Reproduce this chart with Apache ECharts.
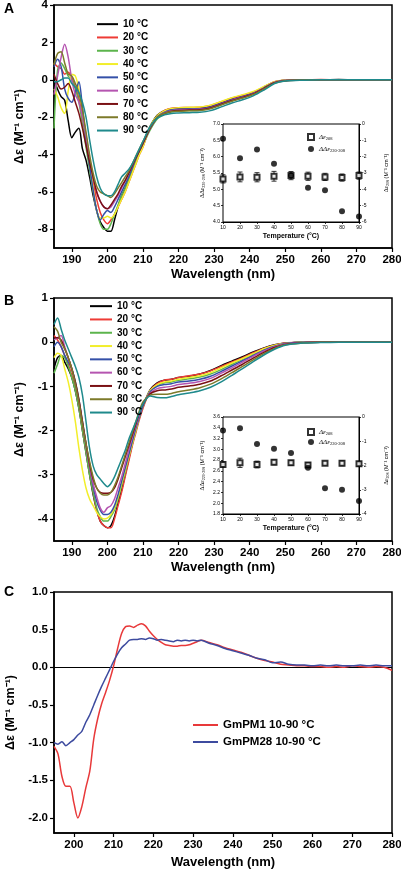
<!DOCTYPE html>
<html><head><meta charset="utf-8">
<script src="https://cdn.jsdelivr.net/npm/echarts@6/dist/echarts.min.js"></script>
<style>html,body{margin:0;padding:0;background:#fff}#c{width:401px;height:871px}</style>
</head><body><div id="c"></div>
<script>
// ---------- DATA ----------
const wlAB = [185,186,187,188,189,190,191,192,193,194,195,196,197,198,199,200,201,202,203,204,205,206,207,208,209,210,
  212,214,216,218,220,223,226,229,232,235,238,241,244,247,250,255,260,265,270,275,280];
const tempNames = ['10 °C','20 °C','30 °C','40 °C','50 °C','60 °C','70 °C','80 °C','90 °C'];
const tempColors = ['#000000','#ee3b35','#5cb44c','#f2ee2a','#3450a8','#b555b0','#7a1014','#7d7a2a','#1f8a8c'];

// Panel A spectra (head 185-210 + tail 212-280)
const A10 = [0.0,-0.5,-0.9,-1.1,-2.2,-3.1,-2.8,-2.6,-3.7,-4.3,-5.2,-6.2,-7.0,-7.6,-7.9,-8.1,-8.1,-7.5,-6.8,-6.2,-5.8,-5.3,-4.8,-4.3,-3.8,-3.4,
  -2.5,-1.9,-1.65,-1.55,-1.52,-1.5,-1.5,-1.4,-1.2,-1.0,-0.85,-0.68,-0.4,-0.12,-0.03,0.0,0.0,0.01,0.0,0.0,0.0];
const A20 = [0.9,0.7,0.6,0.3,0.4,0.1,-0.4,-1.0,-2.0,-3.2,-4.3,-5.4,-6.4,-7.1,-7.5,-7.7,-7.5,-7.2,-6.8,-6.4,-6.0,-5.5,-5.0,-4.5,-4.0,-3.6,
  -2.55,-1.95,-1.65,-1.52,-1.5,-1.48,-1.47,-1.38,-1.18,-0.98,-0.83,-0.66,-0.38,-0.1,-0.02,0.0,0.01,0.0,0.0,0.0,0.0];
const A30 = [-2.6,0.5,0.9,0.6,0.2,0.0,-0.5,-1.2,-2.4,-3.6,-4.8,-6.0,-7.0,-7.7,-8.0,-8.0,-7.7,-7.2,-6.7,-6.2,-5.8,-5.3,-4.8,-4.3,-3.9,-3.5,
  -2.7,-2.1,-1.85,-1.72,-1.67,-1.65,-1.63,-1.53,-1.32,-1.12,-0.96,-0.76,-0.46,-0.16,-0.05,-0.01,0.0,0.0,0.0,0.0,0.0];
const A40 = [-0.5,-0.9,-1.5,-1.8,-0.6,0.3,0.2,-0.5,-1.6,-3.0,-4.4,-5.8,-7.0,-7.4,-7.4,-7.3,-7.4,-7.2,-6.8,-6.4,-6.0,-5.5,-5.0,-4.5,-4.0,-3.6,
  -2.5,-1.92,-1.66,-1.53,-1.5,-1.47,-1.46,-1.36,-1.16,-0.96,-0.8,-0.63,-0.36,-0.1,-0.02,0.0,0.0,0.0,0.0,0.0,0.0];
const A50 = [0.7,1.1,0.7,-0.5,-1.0,-1.2,-0.7,-0.1,-1.5,-3.2,-4.6,-5.9,-7.0,-7.5,-7.2,-7.0,-7.1,-6.8,-6.4,-6.0,-5.6,-5.2,-4.7,-4.2,-3.8,-3.4,
  -2.6,-2.0,-1.75,-1.62,-1.58,-1.56,-1.55,-1.46,-1.26,-1.06,-0.9,-0.72,-0.43,-0.14,-0.04,0.0,0.0,0.0,0.0,0.0,0.0];
const A60 = [-0.8,0.2,1.2,1.9,1.2,0.0,-0.8,-1.2,-2.0,-3.0,-4.2,-5.2,-6.0,-6.5,-6.8,-6.9,-6.8,-6.5,-6.2,-5.8,-5.4,-5.0,-4.6,-4.2,-3.8,-3.4,
  -2.62,-2.02,-1.78,-1.66,-1.62,-1.6,-1.58,-1.49,-1.29,-1.09,-0.93,-0.74,-0.45,-0.15,-0.04,0.0,0.0,0.0,0.0,0.0,0.0];
const A70 = [0.3,-0.2,-0.5,-0.4,-0.2,-0.6,-1.2,-1.8,-2.6,-3.5,-4.4,-5.2,-6.0,-6.5,-6.8,-6.9,-6.7,-6.4,-6.1,-5.7,-5.4,-5.0,-4.6,-4.2,-3.8,-3.4,
  -2.6,-2.03,-1.8,-1.68,-1.64,-1.62,-1.6,-1.51,-1.31,-1.11,-0.95,-0.76,-0.46,-0.16,-0.05,-0.01,0.0,0.0,0.0,0.0,0.0];
const A80 = [0.8,1.4,1.5,0.9,0.3,0.2,-0.2,-0.7,-1.6,-2.8,-4.0,-5.0,-5.7,-6.0,-6.1,-6.2,-6.3,-6.1,-5.8,-5.5,-5.2,-4.9,-4.5,-4.1,-3.7,-3.3,
  -2.55,-2.0,-1.8,-1.7,-1.68,-1.66,-1.64,-1.55,-1.35,-1.15,-0.98,-0.79,-0.49,-0.18,-0.05,-0.01,0.0,0.0,0.0,0.0,0.0];
const A90 = [-0.1,-0.1,0.0,0.1,0.1,-0.2,-0.4,-0.7,-1.2,-2.0,-3.2,-4.3,-5.2,-5.8,-6.1,-6.2,-6.2,-6.0,-5.6,-5.2,-5.0,-4.8,-4.5,-4.1,-3.7,-3.3,
  -2.5,-2.05,-1.88,-1.8,-1.78,-1.76,-1.74,-1.65,-1.45,-1.24,-1.07,-0.86,-0.55,-0.2,-0.07,-0.02,0.0,0.0,0.0,0.0,0.0];

// Panel B spectra
const B10 = [-0.6,-0.35,-0.3,-0.45,-0.6,-0.8,-1.1,-1.5,-2.0,-2.5,-3.0,-3.45,-3.8,-4.05,-4.15,-4.2,-4.15,-3.95,-3.65,-3.35,-3.0,-2.65,-2.3,-2.0,-1.7,-1.45,
  -1.08,-0.92,-0.86,-0.84,-0.8,-0.77,-0.72,-0.64,-0.53,-0.43,-0.33,-0.22,-0.13,-0.06,-0.02,0.0,0.01,0.0,0.01,0.0,0.0];
const B20 = [0.15,0.05,-0.1,-0.3,-0.5,-0.75,-1.05,-1.45,-1.95,-2.45,-2.95,-3.4,-3.8,-4.05,-4.15,-4.2,-4.2,-4.0,-3.7,-3.4,-3.05,-2.7,-2.35,-2.05,-1.75,-1.5,
  -1.1,-0.94,-0.86,-0.84,-0.8,-0.76,-0.72,-0.65,-0.55,-0.45,-0.35,-0.24,-0.14,-0.07,-0.02,0.0,0.01,0.0,0.01,0.0,0.0];
const B30 = [-0.7,-0.5,-0.3,-0.35,-0.55,-0.8,-1.1,-1.5,-2.0,-2.5,-3.0,-3.4,-3.75,-3.95,-4.05,-4.05,-3.95,-3.8,-3.55,-3.25,-2.95,-2.6,-2.3,-2.0,-1.7,-1.45,
  -1.12,-0.98,-0.92,-0.9,-0.86,-0.83,-0.79,-0.72,-0.62,-0.5,-0.39,-0.27,-0.16,-0.08,-0.03,0.0,0.0,0.0,0.0,0.01,0.0];
const B40 = [-0.35,-0.25,-0.3,-0.6,-0.9,-1.3,-1.8,-2.4,-2.9,-3.3,-3.55,-3.7,-3.85,-3.95,-4.0,-3.98,-3.9,-3.75,-3.5,-3.2,-2.9,-2.6,-2.3,-2.0,-1.7,-1.45,
  -1.1,-0.96,-0.9,-0.88,-0.84,-0.8,-0.76,-0.69,-0.58,-0.47,-0.37,-0.26,-0.15,-0.07,-0.03,0.0,0.0,0.0,0.0,0.0,0.0];
const B50 = [-0.1,0.0,-0.1,-0.3,-0.45,-0.6,-0.9,-1.3,-1.8,-2.3,-2.8,-3.25,-3.6,-3.8,-3.9,-3.9,-3.85,-3.7,-3.45,-3.15,-2.85,-2.55,-2.25,-1.95,-1.7,-1.45,
  -1.12,-1.0,-0.96,-0.94,-0.9,-0.88,-0.84,-0.77,-0.66,-0.54,-0.42,-0.3,-0.18,-0.09,-0.03,0.0,0.0,0.0,0.0,0.0,0.0];
const B60 = [0.05,0.1,0.15,-0.1,-0.35,-0.6,-0.95,-1.35,-1.85,-2.35,-2.8,-3.2,-3.5,-3.75,-3.85,-3.75,-3.7,-3.55,-3.3,-3.05,-2.75,-2.45,-2.15,-1.9,-1.65,-1.4,
  -1.15,-1.05,-1.02,-1.0,-0.96,-0.93,-0.89,-0.82,-0.7,-0.58,-0.45,-0.32,-0.2,-0.1,-0.04,-0.01,0.0,0.0,0.0,0.0,0.0];
const B70 = [0.1,0.1,0.05,-0.15,-0.35,-0.6,-0.9,-1.3,-1.8,-2.3,-2.75,-3.1,-3.3,-3.4,-3.42,-3.42,-3.4,-3.3,-3.1,-2.85,-2.6,-2.35,-2.1,-1.85,-1.6,-1.4,
  -1.17,-1.1,-1.08,-1.06,-1.02,-0.99,-0.95,-0.88,-0.76,-0.63,-0.5,-0.36,-0.23,-0.12,-0.05,-0.01,0.0,0.0,0.0,0.0,0.0];
const B80 = [0.35,0.25,0.0,-0.15,-0.35,-0.6,-0.95,-1.35,-1.85,-2.3,-2.7,-3.05,-3.3,-3.42,-3.46,-3.46,-3.4,-3.25,-3.05,-2.8,-2.55,-2.3,-2.05,-1.8,-1.55,-1.35,
  -1.2,-1.18,-1.18,-1.16,-1.12,-1.08,-1.03,-0.95,-0.83,-0.69,-0.55,-0.4,-0.26,-0.14,-0.06,-0.02,0.0,0.0,0.0,0.0,0.0];
const B90 = [0.4,0.55,0.3,0.05,-0.15,-0.35,-0.55,-0.8,-1.2,-1.8,-2.4,-2.8,-3.0,-3.1,-3.2,-3.27,-3.2,-3.05,-2.85,-2.65,-2.45,-2.2,-2.0,-1.8,-1.6,-1.4,
  -1.22,-1.25,-1.26,-1.23,-1.19,-1.15,-1.1,-1.02,-0.9,-0.75,-0.6,-0.44,-0.29,-0.16,-0.07,-0.02,-0.01,0.0,0.0,0.0,0.0];

// Insets
const insetTemps = [10,20,30,40,50,60,70,80,90];
const insetA_dde = [6.55,5.95,6.22,5.78,5.42,5.05,4.97,4.33,4.17];
const insetA_de208 = [-3.36,-3.24,-3.26,-3.2,-3.16,-3.2,-3.24,-3.28,-3.16];
const insetA_err = [0.25,0.3,0.28,0.3,0.25,0.25,0.22,0.22,0.22];
const insetB_dde = [3.35,3.39,3.1,3.01,2.93,2.66,2.28,2.25,2.04];
const insetB_de208 = [-1.96,-1.89,-1.96,-1.87,-1.89,-1.98,-1.91,-1.91,-1.93];
const insetB_err = [0.1,0.19,0.14,0.1,0.1,0.1,0.08,0.1,0.1];

// Panel C
const wlC = [195,196,197,198,199,200,201,202,203,204,205,206,207,208,209,210,211,212,213,214,215,216,217,218,219,220,221,222,223,224,225,226,227,228,229,230,231,232,
  234,236,238,240,242,244,246,248,250,252,254,256,258,260,262,264,266,268,270,272,274,276,278,280];
const C_PM1 = [-1.05,-1.15,-1.45,-1.58,-1.58,-1.8,-2.0,-1.85,-1.6,-1.38,-0.95,-0.68,-0.48,-0.33,-0.17,0.02,0.25,0.45,0.54,0.55,0.53,0.56,0.58,0.55,0.48,0.42,0.37,0.33,0.3,0.29,0.28,0.28,0.29,0.29,0.3,0.32,0.34,0.36,
  0.33,0.3,0.26,0.23,0.2,0.16,0.12,0.09,0.07,0.04,0.03,0.02,0.02,0.01,0.01,0.0,0.01,0.0,0.02,0.01,0.0,0.01,0.0,-0.04];
const C_PM28 = [-1.0,-1.02,-0.99,-1.04,-1.0,-0.96,-0.9,-0.85,-0.73,-0.63,-0.5,-0.37,-0.25,-0.14,-0.03,0.08,0.18,0.26,0.31,0.36,0.37,0.37,0.38,0.37,0.39,0.38,0.36,0.37,0.36,0.35,0.34,0.36,0.35,0.36,0.35,0.36,0.35,0.36,
  0.32,0.29,0.25,0.22,0.19,0.16,0.12,0.1,0.06,0.07,0.04,0.03,0.03,0.02,0.03,0.02,0.03,0.02,0.02,0.03,0.02,0.03,0.02,0.02];
const cNames = ['GmPM1 10-90 °C','GmPM28 10-90 °C'];
const cColors = ['#e8393a','#3d4b9f'];

// Tick values
const ticksXAB = [190,200,210,220,230,240,250,260,270,280];
const ticksXC = [200,210,220,230,240,250,260,270,280];
const ticksYA = [4,2,0,-2,-4,-6,-8];
const ticksYB = [1,0,-1,-2,-3,-4];
const ticksYC = [1,0.5,0,-0.5,-1,-1.5,-2];

// ---------- CHART ----------
const F = 'Liberation Sans, Arial, sans-serif';
const SERIF = 'Liberation Serif, Times New Roman, serif';
const chart = echarts.init(document.getElementById('c'), null, {renderer:'canvas'});
const pair = (xs, ys) => xs.map((x,i)=>[x, ys[i]]);
const Aset = [A10,A20,A30,A40,A50,A60,A70,A80,A90];
const Bset = [B10,B20,B30,B40,B50,B60,B70,B80,B90];

function mainX(gi, min, ticks, gap){
  return {type:'value', gridIndex:gi, min:min, max:280,
    name:'Wavelength (nm)', nameLocation:'middle', nameGap:gap,
    nameTextStyle:{fontFamily:F, fontWeight:'bold', fontSize:13, color:'#000'},
    axisLine:{show:true, onZero:false, lineStyle:{color:'#000', width:1.5}},
    axisTick:{show:true, inside:false, length:4, customValues:ticks, lineStyle:{color:'#000', width:1.2}},
    axisLabel:{customValues:ticks, margin:6, fontFamily:F, fontWeight:'bold', fontSize:11.5, color:'#000'},
    splitLine:{show:false}};
}
function mainY(gi, min, max, ticks, dec){
  return {type:'value', gridIndex:gi, min:min, max:max,
    name:'Δε (M⁻¹ cm⁻¹)', nameLocation:'middle', nameGap:dec?35:28, nameRotate:90,
    nameTextStyle:{fontFamily:F, fontWeight:'bold', fontSize:12.5, color:'#000'},
    axisLine:{show:true, onZero:false, lineStyle:{color:'#000', width:1.5}},
    axisTick:{show:true, inside:false, length:4, customValues:ticks, lineStyle:{color:'#000', width:1.2}},
    axisLabel:{customValues:ticks, margin:6, fontFamily:F, fontWeight:'bold', fontSize:11.5, color:'#000',
      formatter: v => dec ? v.toFixed(1) : String(v)},
    splitLine:{show:false}};
}
function insetX(gi){
  return {type:'value', gridIndex:gi, min:10, max:90, interval:10,
    name:'Temperature (°C)', nameLocation:'middle', nameGap:11,
    nameTextStyle:{fontFamily:F, fontWeight:'bold', fontSize:7, color:'#000'},
    axisLine:{show:true, onZero:false, lineStyle:{color:'#000', width:1}},
    axisTick:{show:true, inside:false, length:2, lineStyle:{color:'#000', width:0.8}},
    axisLabel:{margin:3, fontFamily:F, fontSize:5, color:'#000'},
    splitLine:{show:false}};
}
function insetYL(gi, min, max, iv){
  return {type:'value', gridIndex:gi, min:min, max:max, interval:iv, position:'left',
    name:'{g|ΔΔε}{s|220-208} (M⁻¹ cm⁻¹)', nameLocation:'middle', nameGap:17, nameRotate:90,
    nameTextStyle:{fontFamily:F, fontSize:5.5, color:'#000', rich:{g:{fontFamily:SERIF, fontSize:6}, s:{fontFamily:SERIF, fontSize:4, padding:[3,0,0,0]}}},
    axisLine:{show:true, onZero:false, lineStyle:{color:'#000', width:1}},
    axisTick:{show:true, inside:false, length:2, lineStyle:{color:'#000', width:0.8}},
    axisLabel:{margin:3, fontFamily:F, fontSize:5, color:'#000', formatter:v=>v.toFixed(1)},
    splitLine:{show:false}};
}
function insetYR(gi, min, max){
  return {type:'value', gridIndex:gi, min:min, max:max, interval:1, position:'right',
    name:'{g|Δε}{s|208} (M⁻¹ cm⁻¹)', nameLocation:'middle', nameGap:24, nameRotate:90,
    nameTextStyle:{fontFamily:F, fontSize:5.5, color:'#000', rich:{g:{fontFamily:SERIF, fontSize:6}, s:{fontFamily:SERIF, fontSize:4, padding:[3,0,0,0]}}},
    axisLine:{show:true, onZero:false, lineStyle:{color:'#000', width:1}},
    axisTick:{show:true, inside:false, length:2, lineStyle:{color:'#000', width:0.8}},
    axisLabel:{margin:3, fontFamily:F, fontSize:5, color:'#000'},
    splitLine:{show:false}};
}
function errSeries(xi, yi, vals, errs){
  return {type:'custom', coordinateSystem:'cartesian2d', xAxisIndex:xi, yAxisIndex:yi, silent:true, z:4,
    data: insetTemps.map((t,i)=>[t, vals[i]-errs[i], vals[i]+errs[i]]),
    encode:{x:0, y:[1,2]},
    renderItem:(params, api)=>{
      const x=api.value(0);
      const p1=api.coord([x, api.value(1)]), p2=api.coord([x, api.value(2)]);
      const w=2.5, st={stroke:'#000', lineWidth:0.8};
      return {type:'group', children:[
        {type:'line', shape:{x1:p1[0],y1:p1[1],x2:p2[0],y2:p2[1]}, style:st},
        {type:'line', shape:{x1:p1[0]-w,y1:p1[1],x2:p1[0]+w,y2:p1[1]}, style:st},
        {type:'line', shape:{x1:p2[0]-w,y1:p2[1],x2:p2[0]+w,y2:p2[1]}, style:st}]};
    }};
}

const series = [];
Aset.forEach((arr,i)=>series.push({name:tempNames[i], type:'line', xAxisIndex:0, yAxisIndex:0, data:pair(wlAB, arr),
  symbol:'none', smooth:0.3, lineStyle:{width:1.5, color:tempColors[i]}, itemStyle:{color:tempColors[i]}, z:2}));
Bset.forEach((arr,i)=>series.push({name:tempNames[i], type:'line', xAxisIndex:2, yAxisIndex:3, data:pair(wlAB, arr),
  symbol:'none', smooth:0.3, lineStyle:{width:1.5, color:tempColors[i]}, itemStyle:{color:tempColors[i]}, z:2}));
// inset A
series.push(errSeries(1,2,insetA_de208,insetA_err));
series.push({name:'de208', type:'scatter', xAxisIndex:1, yAxisIndex:2, data:pair(insetTemps, insetA_de208),
  symbol:'emptyRect', symbolSize:5, itemStyle:{color:'#000', borderColor:'#000', borderWidth:1}, z:5});
series.push({name:'dde', type:'scatter', xAxisIndex:1, yAxisIndex:1, data:pair(insetTemps, insetA_dde),
  symbol:'circle', symbolSize:6, itemStyle:{color:'#000'}, z:6});
// inset B
series.push(errSeries(3,5,insetB_de208,insetB_err));
series.push({name:'de208', type:'scatter', xAxisIndex:3, yAxisIndex:5, data:pair(insetTemps, insetB_de208),
  symbol:'emptyRect', symbolSize:5, itemStyle:{color:'#000', borderColor:'#000', borderWidth:1}, z:5});
series.push({name:'dde', type:'scatter', xAxisIndex:3, yAxisIndex:4, data:pair(insetTemps, insetB_dde),
  symbol:'circle', symbolSize:6, itemStyle:{color:'#000'}, z:6});
// panel C
[C_PM1, C_PM28].forEach((arr,i)=>series.push({name:cNames[i], type:'line', xAxisIndex:4, yAxisIndex:6, data:pair(wlC, arr),
  symbol:'none', smooth:0.3, lineStyle:{width:1.5, color:cColors[i]}, itemStyle:{color:cColors[i]}, z:3,
  markLine: i===0 ? {silent:true, symbol:['none','none'], label:{show:false}, lineStyle:{color:'#000', width:1, type:'solid'}, data:[{yAxis:0}], z:2} : undefined}));

const insetLegendFmt = n => n==='de208' ? '{g|Δε}{s|208}' : '{g|ΔΔε}{s|220-208}';
const insetLegendText = {fontFamily:SERIF, fontSize:6.5, color:'#000', rich:{g:{fontFamily:SERIF, fontStyle:'italic', fontSize:7}, s:{fontFamily:SERIF, fontSize:4.5, padding:[4,0,0,0]}}};
const gridBase = {show:true, borderColor:'#000', outerBoundsMode:'none', containLabel:false};

const option = {
  animation:false, backgroundColor:'#fff',
  grid:[
    Object.assign({left:54, top:5, width:338, height:243, borderWidth:1.5, backgroundColor:'transparent'}, gridBase),
    Object.assign({left:223, top:124, width:136, height:98, borderWidth:1, backgroundColor:'#fff', z:3}, gridBase),
    Object.assign({left:54, top:298, width:338, height:243, borderWidth:1.5, backgroundColor:'transparent'}, gridBase),
    Object.assign({left:223, top:417, width:136, height:97, borderWidth:1, backgroundColor:'#fff', z:3}, gridBase),
    Object.assign({left:54, top:592, width:338, height:241, borderWidth:1.5, backgroundColor:'transparent'}, gridBase)
  ],
  xAxis:[ mainX(0,185,ticksXAB,20), insetX(1), mainX(2,185,ticksXAB,20), insetX(3), mainX(4,195,ticksXC,23) ],
  yAxis:[ mainY(0,-9,4,ticksYA,false), insetYL(1,4,7,0.5), insetYR(1,-6,0),
          mainY(2,-4.5,1,ticksYB,false), insetYL(3,1.8,3.6,0.2), insetYR(3,-4,0),
          mainY(4,-2.2,1,ticksYC,true) ],
  legend:[
    {left:97, top:18, padding:0, orient:'vertical', icon:'rect', itemWidth:21, itemHeight:2, itemGap:1, selectedMode:false,
      data:tempNames, textStyle:{fontFamily:F, fontWeight:'bold', fontSize:10, lineHeight:12.3, color:'#000'}},
    {left:90, top:300, padding:0, orient:'vertical', icon:'rect', itemWidth:22, itemHeight:2, itemGap:1, selectedMode:false,
      data:tempNames, textStyle:{fontFamily:F, fontWeight:'bold', fontSize:10, lineHeight:12.3, color:'#000'}},
    {left:307, top:133, padding:0, orient:'vertical', itemWidth:6, itemHeight:6, itemGap:4, selectedMode:false,
      data:[{name:'de208', icon:'emptyRect'},{name:'dde', icon:'circle'}], formatter:insetLegendFmt, textStyle:insetLegendText},
    {left:307, top:428, padding:0, orient:'vertical', itemWidth:6, itemHeight:6, itemGap:2, selectedMode:false,
      data:[{name:'de208', icon:'emptyRect'},{name:'dde', icon:'circle'}], formatter:insetLegendFmt, textStyle:insetLegendText},
    {left:193, top:718, padding:0, orient:'vertical', icon:'rect', itemWidth:25, itemHeight:2, itemGap:3, selectedMode:false,
      data:cNames, textStyle:{fontFamily:F, fontWeight:'bold', fontSize:11.5, lineHeight:14, color:'#000'}}
  ],
  graphic:[
    {type:'text', left:4, top:2, style:{text:'A', fontFamily:F, fontWeight:'bold', fontSize:14, fill:'#000'}},
    {type:'text', left:4, top:294, style:{text:'B', fontFamily:F, fontWeight:'bold', fontSize:14, fill:'#000'}},
    {type:'text', left:4, top:585, style:{text:'C', fontFamily:F, fontWeight:'bold', fontSize:14, fill:'#000'}}
  ],
  series: series
};
chart.setOption(option);
</script></body></html>
